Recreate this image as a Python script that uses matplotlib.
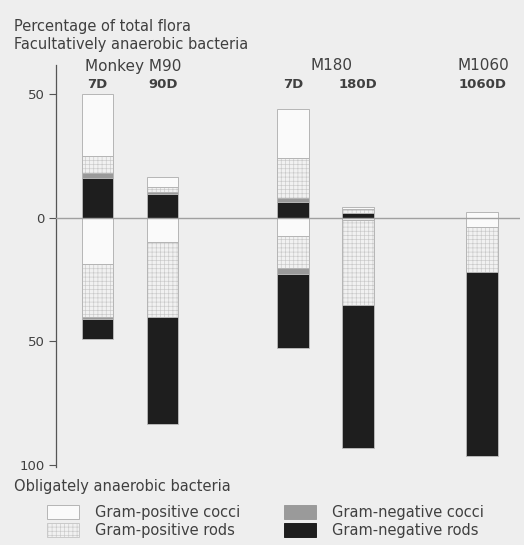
import matplotlib
matplotlib.use("Agg")
import matplotlib.pyplot as plt
from matplotlib.patches import Patch
import matplotlib.transforms as mtransforms
import numpy as np

plt.rcParams['font.family'] = ['DejaVu Sans']
plt.rcParams['hatch.linewidth'] = 0.45

# ---------------- data ----------------
samples = ["7D", "90D", "7D", "180D", "1060D"]
groups = ["Monkey M90", "M180", "M1060"]
categories = ["Gram-positive cocci", "Gram-positive rods",
              "Gram-negative cocci", "Gram-negative rods"]

# Facultatively anaerobic bacteria (% of total flora, drawn upward)
fac_gpc = [25.2, 4.3, 19.8, 1.0, 2.3]
fac_gpr = [6.8, 1.8, 16.4, 1.5, 0.0]
fac_gnc = [1.8, 1.0, 1.4, 0.0, 0.0]
fac_gnr = [16.2, 9.5, 6.4, 2.0, 0.0]

# Obligately anaerobic bacteria (% of total flora, drawn downward)
obl_gpc = [18.6, 9.9, 7.2, 1.0, 3.9]
obl_gpr = [21.4, 30.4, 13.2, 34.3, 18.1]
obl_gnc = [1.0, 0.0, 2.2, 0.0, 0.0]
obl_gnr = [8.1, 43.2, 30.1, 57.6, 74.3]

yticks = [50, 0, -50, -100]
yticklabels = ["50", "0", "50", "100"]

# ---------------- style ----------------
bg = "#eeeeee"
txt = "#404040"
styles = {
    "Gram-positive cocci": dict(face="#fafafa", hatch=None, hcol="#b0b0b0"),
    "Gram-positive rods": dict(face="#f1f1f1", hatch="++++", hcol="#c9c9c9"),
    "Gram-negative cocci": dict(face="#9a9a9a", hatch=None, hcol="#9a9a9a"),
    "Gram-negative rods": dict(face="#1e1e1e", hatch=None, hcol="#1e1e1e"),
}

W, H = 524, 545
fig = plt.figure(figsize=(W / 100, H / 100), dpi=100, facecolor=bg)
ax = fig.add_axes([56 / W, 1 - 466.5 / H, (520 - 56) / W, (466.5 - 65) / H])
ax.set_facecolor(bg)

x = np.array([0, 1, 3, 4, 5.9])
width = 0.485

def draw_stack(series_list, names, sign):
    base = np.zeros(len(x))
    for vals, name in zip(series_list, names):
        vals = np.array(vals) * sign
        st = styles[name]
        ax.bar(x, vals, width, bottom=base, color=st["face"], edgecolor=st["hcol"],
               hatch=st["hatch"], linewidth=0, zorder=2)
        ax.bar(x, vals, width, bottom=base, fill=False, edgecolor="#b5b5b5",
               linewidth=0.7, zorder=3)
        base = base + vals

# upward: from zero GNR, GNC, GPR, GPC
draw_stack([fac_gnr, fac_gnc, fac_gpr, fac_gpc],
           ["Gram-negative rods", "Gram-negative cocci", "Gram-positive rods", "Gram-positive cocci"], 1)
# downward: from zero GPC, GPR, GNC, GNR
draw_stack([obl_gpc, obl_gpr, obl_gnc, obl_gnr],
           ["Gram-positive cocci", "Gram-positive rods", "Gram-negative cocci", "Gram-negative rods"], -1)

ax.axhline(0, color="#a0a0a0", linewidth=1.0, zorder=4)

ax.set_xlim(-0.636, 6.48)
ax.set_ylim(-100.5, 61.7)
ax.set_yticks(yticks)
ax.set_yticklabels(yticklabels, color=txt, fontsize=9.5)
ax.tick_params(axis="y", direction="out", length=5, width=0.8, color="#555555", pad=3)
ax.set_xticks([])
for s in ["top", "right", "bottom"]:
    ax.spines[s].set_visible(False)
ax.spines["left"].set_color("#555555")
ax.spines["left"].set_linewidth(0.9)

# sample labels above bars
trans = mtransforms.blended_transform_factory(ax.transData, fig.transFigure)
for xi, lab in zip(x, samples):
    ax.text(xi, 1 - 84 / H, lab, transform=trans, ha="center", va="center",
            fontsize=9.5, color=txt, fontweight="bold")

# group labels
fig.text(85 / W, 1 - 66 / H, groups[0], ha="left", va="center", fontsize=11, color=txt)
fig.text(331 / W, 1 - 66 / H, groups[1], ha="center", va="center", fontsize=11, color=txt)
fig.text(483 / W, 1 - 66 / H, groups[2], ha="center", va="center", fontsize=11, color=txt)

fig.text(14 / W, 1 - 27 / H, "Percentage of total flora", ha="left", va="center", fontsize=10.5, color=txt)
fig.text(14 / W, 1 - 45 / H, "Facultatively anaerobic bacteria", ha="left", va="center", fontsize=10.5, color=txt)
fig.text(14 / W, 1 - 486 / H, "Obligately anaerobic bacteria", ha="left", va="center", fontsize=10.5, color=txt)

handles = []
for name in categories:
    st = styles[name]
    ec = "#b5b5b5" if name == "Gram-positive cocci" else st["hcol"]
    handles.append(Patch(facecolor=st["face"], edgecolor=ec, hatch=st["hatch"], linewidth=0.7, label=name))

leg = fig.legend(handles=handles, ncol=2, loc="upper left",
                 bbox_to_anchor=(47 / W, 1 - 505 / H), bbox_transform=fig.transFigure,
                 frameon=False, borderpad=0, borderaxespad=0, fontsize=10.5,
                 handlelength=2.2, handleheight=1.1,
                 handletextpad=1.1, labelspacing=0.2, columnspacing=3.0, labelcolor=txt)

fig.savefig("out.png", dpi=100, facecolor=bg)
